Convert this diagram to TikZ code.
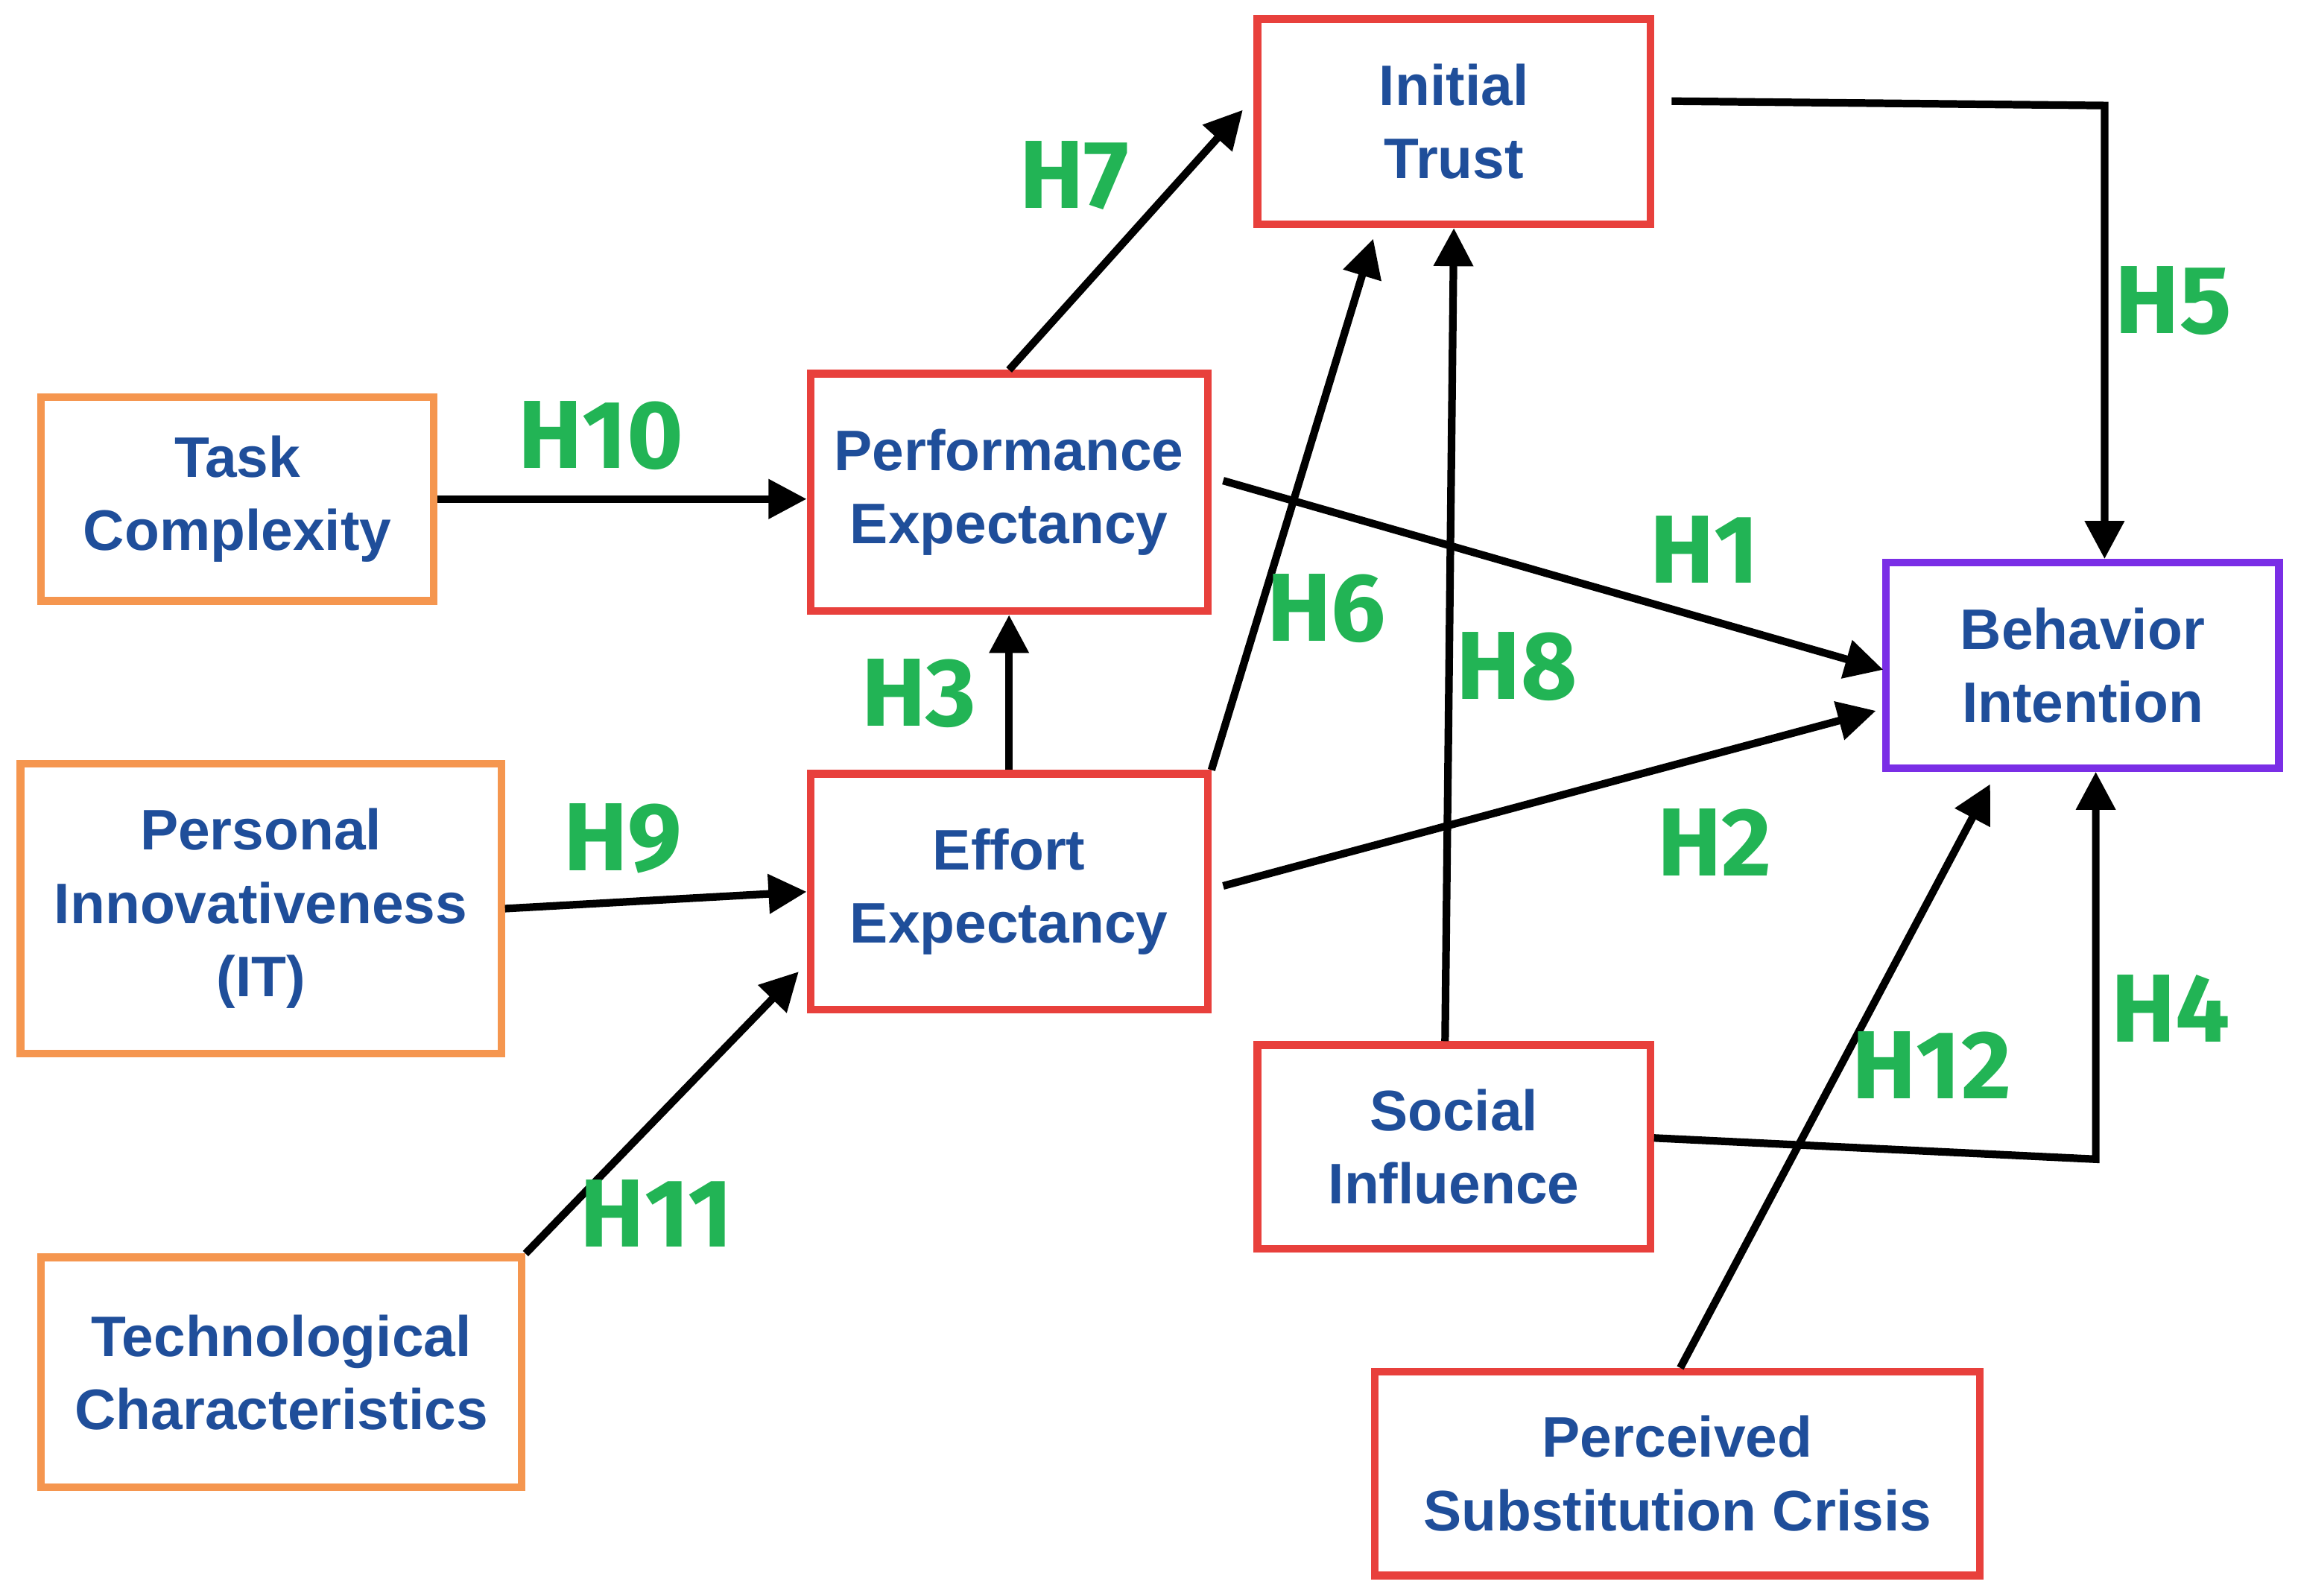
\documentclass[tikz,border=0pt]{standalone}
\usepackage{fontspec}
\setmainfont{Liberation Sans}
\newfontfamily\hfont{Fira Sans}
\usetikzlibrary{arrows.meta}
\definecolor{tblue}{HTML}{1F4E9A}
\definecolor{hgreen}{HTML}{22B455}
\definecolor{bor}{HTML}{F5964F}
\definecolor{bred}{HTML}{E8403C}
\definecolor{bpur}{HTML}{7A2EE6}
\begin{document}
\begin{tikzpicture}[x=0.5pt,y=-0.5pt,
 box/.style={draw=#1,line width=2.6pt,fill=white,align=center,text=tblue,font=\bfseries\fontsize{19.5}{25}\selectfont,inner sep=0pt},
 arr/.style={line width=2.6pt,-{Triangle[length=13pt,width=13pt]}},
 hl/.style={text=hgreen,font=\hfont\bfseries\fontsize{33}{36}\selectfont}]
\useasboundingbox (0,0) rectangle (1568,1089);
\def\bx#1#2#3#4#5#6#7{\node[box=#6,minimum width={(#3-#2)*0.5pt},minimum height={(#5-#4)*0.5pt}] (#1) at ({(#2+#3)/2},{(#4+#5)/2}) {#7};}
\bx{tc}{28}{296}{271}{410}{bor}{Task\\Complexity}
\bx{pi}{14}{342}{521}{719}{bor}{Personal\\Innovativeness\\(IT)}
\bx{tech}{28}{356}{858}{1015}{bor}{Technological\\Characteristics}
\bx{pe}{553}{824}{255}{417}{bred}{Performance\\Expectancy}
\bx{ee}{553}{824}{528}{689}{bred}{Effort\\Expectancy}
\bx{it}{858}{1126}{13}{153}{bred}{Initial\\Trust}
\bx{si}{858}{1126}{713}{852}{bred}{Social\\Influence}
\bx{psc}{938}{1351}{936}{1075}{bred}{Perceived\\Substitution Crisis}
\bx{bi}{1287}{1555}{384}{524}{bpur}{Behavior\\Intention}
\coordinate (c5) at (1436,72);
\coordinate (c4) at (1430,791);
\coordinate (a1) at (1285,457);
\coordinate (a2) at (1280,485);
\coordinate (a7) at (848,75);
\coordinate (a6) at (937,163);
\coordinate (a11) at (545,663);
\coordinate (a12) at (1358,535);
\draw[arr] (tc.east) -- (pe.west|-tc.east);
\draw[arr] (pi.east) -- (ee.west);
\draw[arr] (tech.north east) -- (a11);
\draw[arr] (ee.north) -- (pe.south);
\draw[arr] (pe.north) -- (a7);
\draw[arr] (ee.north east) -- (a6);
\draw[arr] ([xshift=-3pt]si.north) -- (it.south);
\draw[arr] ([xshift=4pt,yshift=4pt]pe.east) -- (a1);
\draw[arr] ([xshift=4pt,yshift=2pt]ee.east) -- (a2);
\draw[arr] ([xshift=6pt,yshift=7pt]it.east) -- (c5) -- (c5|-bi.north);
\draw[arr] ([yshift=3pt]si.east) -- (c4) -- (c4|-bi.south);
\draw[arr] ([xshift=1pt]psc.north) -- (a12);
\node[hl] (h10) at (410,297) {H10};
\node[hl] (h9) at (425,572) {H9};
\node[hl] (h11) at (448,828) {H11};
\node[hl] (h3) at (627,473) {H3};
\node[hl] (h7) at (733,120) {H7};
\node[hl] (h6) at (905,415) {H6};
\node[hl] (h8) at (1035,455) {H8};
\node[hl] (h1) at (1163,375) {H1};
\node[hl] (h2) at (1170,575) {H2};
\node[hl] (h5) at (1483,205) {H5};
\node[hl] (h4) at (1481,688) {H4};
\node[hl] (h12) at (1318,727) {H12};
\end{tikzpicture}
\end{document}
